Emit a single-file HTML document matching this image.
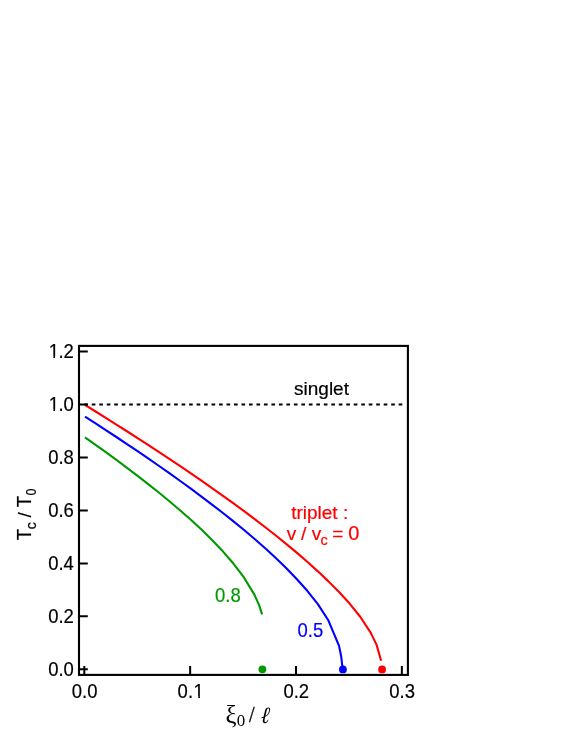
<!DOCTYPE html>
<html><head><meta charset="utf-8"><title>Tc vs disorder</title>
<style>
html,body{margin:0;padding:0;background:#fff;}
svg{display:block;will-change:transform;}
text{font-family:"Liberation Sans",sans-serif;stroke-width:0.2px;}
.s text{font-family:"Liberation Serif",serif;stroke-width:0;}
</style></head>
<body>
<svg width="572" height="740" viewBox="0 0 572 740">
<rect width="572" height="740" fill="#fff"/>
<path d="M85.00,437.44 L95.59,444.90 L106.17,452.47 L116.75,460.19 L127.34,468.05 L137.93,476.08 L148.51,484.31 L159.10,492.75 L169.68,501.44 L180.26,510.44 L190.85,519.79 L201.44,529.59 L212.02,539.95 L222.61,551.07 L233.19,563.28 L243.78,577.20 L254.36,594.60 L259.12,605.16 L262.13,614.35" stroke="#009900" stroke-width="2.1" fill="none" stroke-linejoin="round"/>
<path d="M85.00,416.55 L95.59,423.38 L106.17,430.28 L116.75,437.25 L127.34,444.30 L137.93,451.44 L148.51,458.67 L159.10,466.00 L169.68,473.44 L180.26,481.00 L190.85,488.70 L201.44,496.54 L212.02,504.54 L222.61,512.74 L233.19,521.14 L243.78,529.80 L254.36,538.74 L264.95,548.04 L275.53,557.76 L286.12,568.03 L296.70,578.98 L307.28,590.80 L317.87,604.15 L328.46,620.55 L339.04,645.88 L341.30,657.00 L342.10,664.50 L342.70,668.00" stroke="#0000ff" stroke-width="2.1" fill="none" stroke-linejoin="round"/>
<path d="M85.00,404.93 L95.59,411.50 L106.17,418.11 L116.75,424.78 L127.34,431.51 L137.93,438.31 L148.51,445.16 L159.10,452.10 L169.68,459.11 L180.26,466.20 L190.85,473.38 L201.44,480.66 L212.02,488.04 L222.61,495.54 L233.19,503.17 L243.78,510.93 L254.36,518.86 L264.95,526.96 L275.53,535.28 L286.12,543.82 L296.70,552.64 L307.28,561.79 L317.87,571.35 L328.46,581.38 L339.04,592.00 L349.62,603.56 L360.21,616.77 L370.80,632.91 L376.62,644.86 L381.09,660.70" stroke="#ff0000" stroke-width="2.1" fill="none" stroke-linejoin="round"/>
<path d="M84.3,404.50 H402.3" stroke="#000" stroke-width="2" stroke-dasharray="3.65 3.835" fill="none"/>
<circle cx="262.4" cy="669.3" r="3.9" fill="#009900"/>
<circle cx="342.9" cy="669.4" r="3.9" fill="#0000ff"/>
<circle cx="382.1" cy="669.4" r="3.9" fill="#ff0000"/>
<rect x="79.0" y="345.9" width="328.9" height="329.0" fill="none" stroke="#000" stroke-width="2.1"/>
<path d="M79.0,669.30 H87.8 M79.0,616.34 H87.8 M79.0,563.38 H87.8 M79.0,510.42 H87.8 M79.0,457.46 H87.8 M79.0,404.50 H87.8 M79.0,351.54 H87.8 M84.30,675.0 V666 M190.15,675.0 V666 M296.00,675.0 V666 M401.85,675.0 V666 " stroke="#000" stroke-width="2" fill="none"/>
<text transform="translate(0,676) scale(0.9250,1)" x="52.09 63.21 68.77" font-size="20px" fill="#000" stroke="#000">0.0</text>
<text transform="translate(0,623) scale(0.9250,1)" x="52.09 63.21 68.77" font-size="20px" fill="#000" stroke="#000">0.2</text>
<text transform="translate(0,570) scale(0.9250,1)" x="52.09 63.21 68.77" font-size="20px" fill="#000" stroke="#000">0.4</text>
<text transform="translate(0,517) scale(0.9250,1)" x="52.09 63.21 68.77" font-size="20px" fill="#000" stroke="#000">0.6</text>
<text transform="translate(0,464) scale(0.9250,1)" x="52.09 63.21 68.77" font-size="20px" fill="#000" stroke="#000">0.8</text>
<text transform="translate(0,411) scale(0.9250,1)" x="52.74 63.21 68.77" font-size="20px" fill="#000" stroke="#000">1.0</text><rect x="48.18" y="409" width="5.25" height="3" fill="#fff"/><rect x="55.07" y="409" width="4.30" height="3" fill="#fff"/>
<text transform="translate(0,358) scale(0.9250,1)" x="52.74 63.21 68.77" font-size="20px" fill="#000" stroke="#000">1.2</text><rect x="48.18" y="356" width="5.25" height="3" fill="#fff"/><rect x="55.07" y="356" width="4.30" height="3" fill="#fff"/>
<text transform="translate(0,698) scale(0.9250,1)" x="77.56 88.68 94.24" font-size="20px" fill="#000" stroke="#000">0.0</text>
<text transform="translate(0,698) scale(0.9250,1)" x="191.99 203.11 209.32" font-size="20px" fill="#000" stroke="#000">0.1</text><rect x="193.02" y="696" width="5.25" height="3" fill="#fff"/><rect x="199.91" y="696" width="4.30" height="3" fill="#fff"/>
<text transform="translate(0,698) scale(0.9250,1)" x="306.42 317.55 323.10" font-size="20px" fill="#000" stroke="#000">0.2</text>
<text transform="translate(0,698) scale(0.9250,1)" x="420.86 431.98 437.54" font-size="20px" fill="#000" stroke="#000">0.3</text>
<text transform="translate(321.50,394.80) scale(1.0000,1)" font-size="19px" text-anchor="middle" fill="#000" stroke="#000">singlet</text>
<text transform="translate(319.70,519.00) scale(1.0000,1)" font-size="19px" text-anchor="middle" fill="#ff0000" stroke="#ff0000">triplet :</text>
<text y="540" font-size="19px" fill="#ff0000" stroke="#ff0000"><tspan x="286.7 297.5 301.1 307 311.7">v / v</tspan><tspan x="320.4" dy="5" font-size="14.5px">c</tspan><tspan x="328 332.2 345" dy="-5"> = </tspan><tspan x="348.2" font-size="20px">0</tspan></text>
<text transform="translate(0,602) scale(0.9250,1)" x="232.48 243.60 249.16" font-size="20px" fill="#009900" stroke="#009900">0.8</text>
<text transform="translate(0,637) scale(0.9250,1)" x="321.67 332.79 338.35" font-size="20px" fill="#0000ff" stroke="#0000ff">0.5</text>
<text transform="translate(30.70,540.20) rotate(-90) scale(0.9600,1)" font-size="19.5px" fill="#000" stroke="#000">T</text>
<text transform="translate(35.70,529.20) rotate(-90) scale(1.0000,1)" font-size="14px" fill="#000" stroke="#000">c</text>
<text transform="translate(31.00,517.40) rotate(-90) scale(1.0000,1)" font-size="18.6px" fill="#000" stroke="#000">/</text>
<text transform="translate(30.70,507.20) rotate(-90) scale(0.9600,1)" font-size="19.5px" fill="#000" stroke="#000">T</text>
<text transform="translate(35.70,495.40) rotate(-90) scale(0.9000,1)" font-size="14px" fill="#000" stroke="#000">0</text>
<g class="s">
<text transform="translate(225.40,723.00) scale(0.9700,1)" font-size="25.5px" text-anchor="start" fill="#000" stroke="#000">ξ</text>
<text transform="translate(236.75,726.00) scale(1.0800,1)" font-size="15.7px" text-anchor="start" fill="#000" stroke="#000">0</text>
<text transform="translate(248.90,722.00) scale(0.9000,1)" font-size="22.6px" text-anchor="start" fill="#000" stroke="#000" style="stroke-width:0.35px">/</text>
<text transform="translate(260.60,722.50) skewX(-4) scale(0.9000,1)" font-size="23.4px" text-anchor="start" fill="#000" stroke="#000" font-style="italic">ℓ</text>
</g>
</svg>
</body></html>
